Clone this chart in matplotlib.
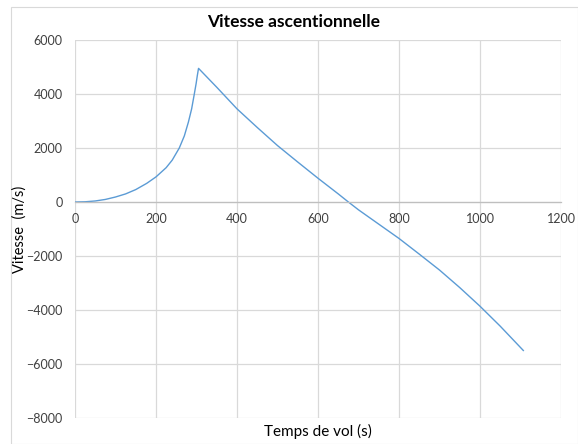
import matplotlib
matplotlib.use("Agg")
import matplotlib.pyplot as plt
from matplotlib.patches import Rectangle

# Data
time_s = [0, 25, 50, 75, 100, 125, 150, 177, 200, 225, 240, 257.5, 270, 280, 288, 294.6, 299, 302, 305,
          350, 400, 450, 500, 550, 600, 650, 675, 700, 750, 800, 850, 900, 950, 1000, 1050, 1107]
speed_ms = [0, 8, 38, 95, 185, 300, 460, 690, 930, 1270, 1550, 2000, 2450, 2960, 3450, 4000, 4380, 4680, 4950,
            4250, 3450, 2760, 2090, 1480, 880, 300, 0, -290, -820, -1350, -1930, -2520, -3170, -3860, -4600, -5500]

x_ticks = [0, 200, 400, 600, 800, 1000, 1200]
y_ticks = [-8000, -6000, -4000, -2000, 0, 2000, 4000, 6000]

title = "Vitesse ascentionnelle"
x_label = "Temps de vol (s)"
y_label = "Vitesse  (m/s)"

plt.rcParams['font.family'] = ['Lato', 'DejaVu Sans']

fig = plt.figure(figsize=(5.78, 4.44), dpi=100)
fig.patches.append(Rectangle((10.5/578, 0.0), 1 - 10.5/578 - 0.5/578, 1 - 7/444, transform=fig.transFigure,
                             fill=False, edgecolor='#d9d9d9', linewidth=0.8))
ax = fig.add_axes([75/578, 1 - 418/444, (561 - 75)/578, (418 - 40)/444])

ax.plot(time_s, speed_ms, color='#5B9BD5', linewidth=1.0)

ax.set_xlim(0, 1200)
ax.set_ylim(-8000, 6000)
ax.set_xticks(x_ticks)
ax.set_yticks(y_ticks)
ax.grid(True, color='#d9d9d9', linewidth=0.9)
ax.set_axisbelow(True)
for s in ['top', 'right', 'left']:
    ax.spines[s].set_visible(False)
ax.spines['bottom'].set_position(('data', 0))
ax.spines['bottom'].set_color('#bfbfbf')
ax.spines['bottom'].set_linewidth(0.9)
ax.tick_params(axis='both', length=0, labelsize=9, colors='#404040')
ax.tick_params(axis='x', pad=8)
ax.tick_params(axis='y', pad=9)
for lab in ax.get_xticklabels() + ax.get_yticklabels():
    lab.set_color('#404040')

fig.text(294/578, 1 - 22/444, title, ha='center', va='center', fontsize=12.5, fontweight='bold')
fig.text(318/578, 1 - 431/444, x_label, ha='center', va='center', fontsize=11)
fig.text(19.5/578, 1 - 229/444, y_label, ha='center', va='center', rotation=90, fontsize=10.5)

fig.savefig("out.png", dpi=100)
